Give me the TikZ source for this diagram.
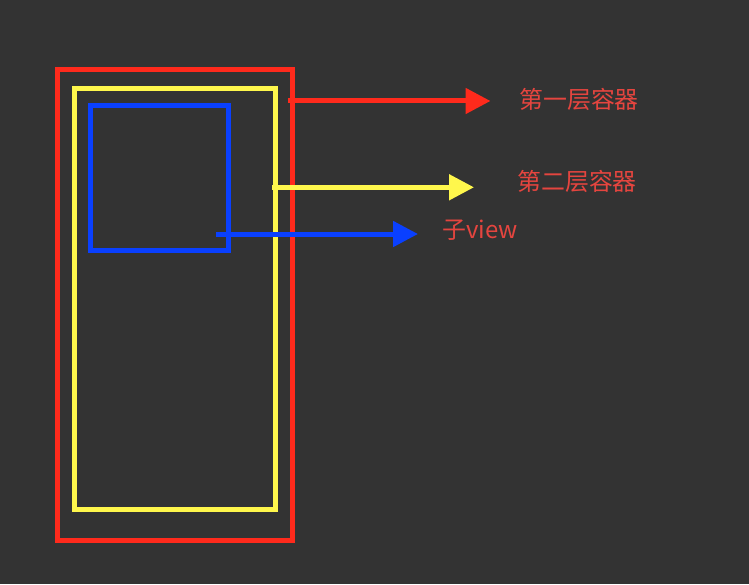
\documentclass[tikz,border=0pt]{standalone}
\usepackage{fontspec}
\newfontfamily\cjk{Noto Sans CJK SC}
\usepackage{tikz}
\usetikzlibrary{arrows.meta, positioning}
\usepackage{xcolor}
\definecolor{darkbg}{HTML}{333333}
\definecolor{layerred}{HTML}{FF2A1C}
\definecolor{layeryellow}{HTML}{FFF74C}
\definecolor{layerblue}{HTML}{0A40FF}
\definecolor{labelred}{HTML}{E5453F}

\begin{document}
\begin{tikzpicture}[
    x=0.02cm, y=-0.02cm,
    frame/.style={draw, line width=0.1cm, inner sep=0pt, outer sep=0pt},
    pointer/.style={-{Triangle[length=0.5cm, width=0.5cm]}, line width=0.1cm},
    label/.style={font=\cjk\fontsize{13.6}{16}\selectfont, color=labelred, anchor=west, inner sep=0pt}
]
    % background
    \fill[darkbg] (0,0) rectangle (749,584);

    % nested containers
    \node[frame, draw=layerred, minimum width=4.694cm, minimum height=9.414cm] (outer) at (175.15,305.15) {};
    \node[frame, draw=layeryellow, minimum width=4.02cm, minimum height=8.414cm] (inner) at (175.3,298.85) {};
    \node[frame, draw=layerblue, minimum width=2.764cm, minimum height=2.906cm] (child) at (159.1,178.15) {};

    % labels
    \node[label] (l1) at (519,99) {第一层容器};
    \node[label] (l2) at (517,181) {第二层容器};
    \node[label] (l3) at (442,230) {子view};

    % arrow ends
    \coordinate (s1) at (288,101);
    \coordinate (e1) at (490.5,101);
    \coordinate (s2) at (272,187.3);
    \coordinate (e2) at (474,187.3);
    \coordinate (s3) at (216,234);
    \coordinate (e3) at (418,234);

    \draw[pointer, layerred] (s1) -- (e1);
    \draw[pointer, layeryellow] (s2) -- (e2);
    \draw[pointer, layerblue] (s3) -- (e3);
\end{tikzpicture}
\end{document}
